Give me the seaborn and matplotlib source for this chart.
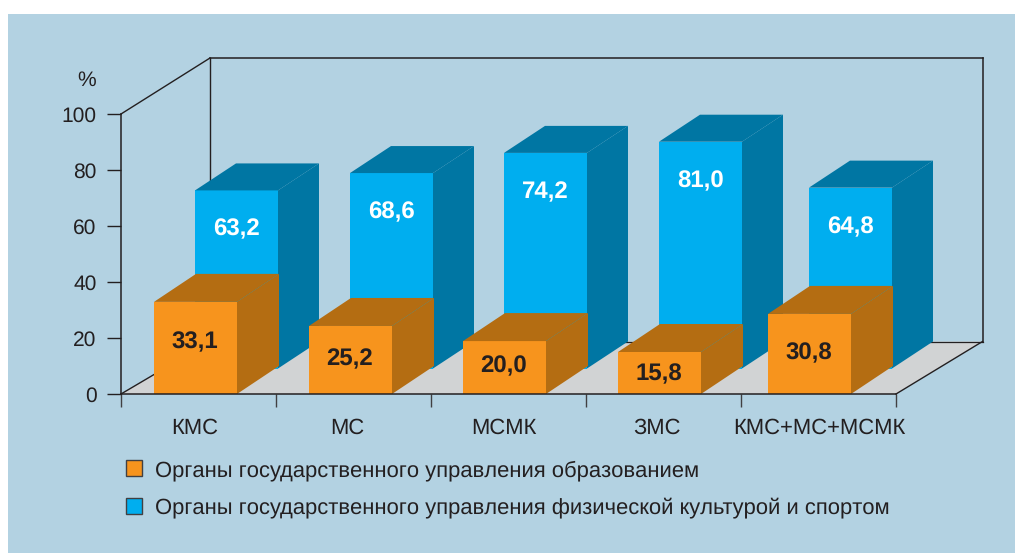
import matplotlib
matplotlib.use("Agg")
import matplotlib.pyplot as plt
from matplotlib.patches import Polygon, Rectangle
from matplotlib.transforms import ScaledTranslation
import seaborn as sns

# Dados
categorias = ["КМС", "МС", "МСМК", "ЗМС", "КМС+МС+МСМК"]
orange_values = [33.1, 25.2, 20.0, 15.8, 30.8]
blue_values = [63.2, 68.6, 74.2, 81.0, 64.8]
# printed numbers and drawn heights differ in the source picture, so both are kept
orange_heights = [32.9, 24.3, 18.9, 15.0, 28.6]
blue_heights = [63.6, 69.8, 77.0, 81.0, 64.6]
y_ticks = [0, 20, 40, 60, 80, 100]
legend_labels = ["Органы государственного управления образованием",
                 "Органы государственного управления физической культурой и спортом"]

# Cores
PANEL = "#b3d2e2"
ORANGE, ORANGE_DARK = "#f7941d", "#b46d12"
BLUE, BLUE_DARK = "#00aeef", "#0076a3"
FLOOR = "#d1d3d4"
INK = "#231f20"

# pixel scale of the axes
PX_X = 155.0
PX_Y = 2.8

sns.set_style("white")
plt.rcParams["font.family"] = ["Liberation Sans", "DejaVu Sans"]
plt.rcParams["text.hinting"] = "no_hinting"
plt.rcParams["text.hinting_factor"] = 1

fig = plt.figure(figsize=(10.15, 5.53), dpi=100, facecolor="white")
fig.add_artist(Rectangle((8 / 1015, 0), 1, 1 - 14 / 553, transform=fig.transFigure,
                         facecolor=PANEL, edgecolor="none", zorder=-1))
ax = fig.add_axes([121 / 1015, 1 - 394 / 553, 775 / 1015, 280 / 553])
ax.patch.set_visible(False)

sns.barplot(x=categorias, y=blue_heights, color=BLUE, saturation=1, width=83 / PX_X,
            label=legend_labels[1], ax=ax, zorder=3, linewidth=0, edgecolor="none", legend=False)
sns.barplot(x=categorias, y=orange_heights, color=ORANGE, saturation=1, width=83 / PX_X,
            label=legend_labels[0], ax=ax, zorder=4, linewidth=0, edgecolor="none", legend=False)

ax.set_xlim(-0.5, 4.5)
ax.set_ylim(0, 100)

# --- frame: back wall and floor ---
wall_dx = 89 / PX_X
floor_dy = 52.5 / PX_Y
top_dy = 56 / PX_Y
x0, x1 = -0.5, 4.5
back_l, back_r = x0 + wall_dx, x1 + 86.5 / PX_X
ax.add_patch(Polygon([(x0, 0), (x1, 0), (back_r, floor_dy), (back_l, floor_dy)],
                     facecolor=FLOOR, edgecolor="none", zorder=1, clip_on=False))
for xs, ys, lw in [([x0, back_l], [100, 100 + top_dy], 1.0),
                   ([back_l, back_r], [100 + top_dy, 100 + top_dy], 1.1),
                   ([back_l, back_l], [100 + top_dy, floor_dy], 1.0),
                   ([back_r, back_r], [100 + top_dy, floor_dy], 1.1),
                   ([back_l, back_r], [floor_dy, floor_dy], 0.9),
                   ([x0, back_l], [0, floor_dy], 1.0),
                   ([x1, back_r], [0, floor_dy], 1.0)]:
    ax.plot(xs, ys, color=INK, lw=lw, zorder=2, clip_on=False, solid_capstyle="projecting")


def box_3d(bar, dx, dy, dark, z):
    # top and side faces of a bar
    l, r = bar.get_x(), bar.get_x() + bar.get_width()
    b, t = bar.get_y(), bar.get_y() + bar.get_height()
    ax.add_patch(Polygon([(l, t), (r, t), (r + dx, t + dy), (l + dx, t + dy)],
                         facecolor=dark, edgecolor="none", zorder=z, clip_on=False))
    ax.add_patch(Polygon([(r, b), (r, t), (r + dx, t + dy), (r + dx, b + dy)],
                         facecolor=dark, edgecolor="none", zorder=z, clip_on=False))


# the source spaces the bars unevenly, last group sits closer
nudge_px = [-3, -3, -4, -4, -9]
blue_shift_px = 41
blue_lift_px = 25.5
orange_label_drop = [40, 33, 25, 22, 39]

blue_bars, orange_bars = ax.containers[0], ax.containers[1]

for i, bar in enumerate(blue_bars):
    bar.set_x(bar.get_x() + (nudge_px[i] + blue_shift_px) / PX_X)
    bar.set_y(blue_lift_px / PX_Y)
    bar.set_clip_on(False)
    box_3d(bar, 41 / PX_X, 27 / PX_Y, BLUE_DARK, 3)
    ax.annotate(f"{blue_values[i]:.1f}".replace(".", ","),
                (bar.get_x() + bar.get_width() / 2, bar.get_y() + bar.get_height()),
                xytext=(0, -39), textcoords="offset pixels", ha="center", va="center",
                color="white", fontsize=17, fontweight="bold", zorder=6)

for i, bar in enumerate(orange_bars):
    bar.set_x(bar.get_x() + nudge_px[i] / PX_X)
    box_3d(bar, 42 / PX_X, 28 / PX_Y, ORANGE_DARK, 4)
    ax.annotate(f"{orange_values[i]:.1f}".replace(".", ","),
                (bar.get_x() + bar.get_width() / 2, bar.get_height()),
                xytext=(-1, -orange_label_drop[i]), textcoords="offset pixels", ha="center",
                va="center", color=INK, fontsize=17, fontweight="bold", zorder=6)

# --- axes ---
sns.despine(ax=ax, top=True, right=True)
for s in ["left", "bottom"]:
    ax.spines[s].set_color(INK)
    ax.spines[s].set_linewidth(1.1)
    ax.spines[s].set_zorder(5)

ax.set_yticks(y_ticks)
ax.tick_params(axis="y", length=10, width=1.0, color=INK, pad=7.5, labelsize=15, labelcolor=INK, left=True)

ax.set_xticks([x0 + i for i in range(6)], labels=[""] * 6)
ax.set_xticks(range(5), labels=categorias, minor=True)
ax.tick_params(axis="x", which="major", length=9.4, width=1.0, color="#414042", bottom=True)
ax.tick_params(axis="x", which="minor", length=0, pad=17, labelsize=15.5, labelcolor=INK)

label_nudge_px = [-3.5, -6.5, -4.5, -6.5, 0.5]
for lab, n in zip(ax.get_xticklabels(minor=True), label_nudge_px):
    lab.set_transform(lab.get_transform() + ScaledTranslation(n / 100, 0, fig.dpi_scale_trans))

fig.text(96 / 1015, 1 - 80 / 553, "%", ha="right", va="center", fontsize=15, color=INK)

# --- legend ---
handles, labels = ax.get_legend_handles_labels()
leg = fig.legend(handles[::-1], labels[::-1], loc="upper left",
                 bbox_to_anchor=(126 / 1015, 1 - 460 / 553), frameon=False,
                 fontsize=16.2, labelcolor=INK, handlelength=0.72, handleheight=0.72,
                 handletextpad=0.57, labelspacing=0.74, borderpad=0, borderaxespad=0)
for h in leg.legend_handles:
    h.set_edgecolor("#414042")
    h.set_linewidth(1.0)

fig.savefig("out.png", dpi=100)
